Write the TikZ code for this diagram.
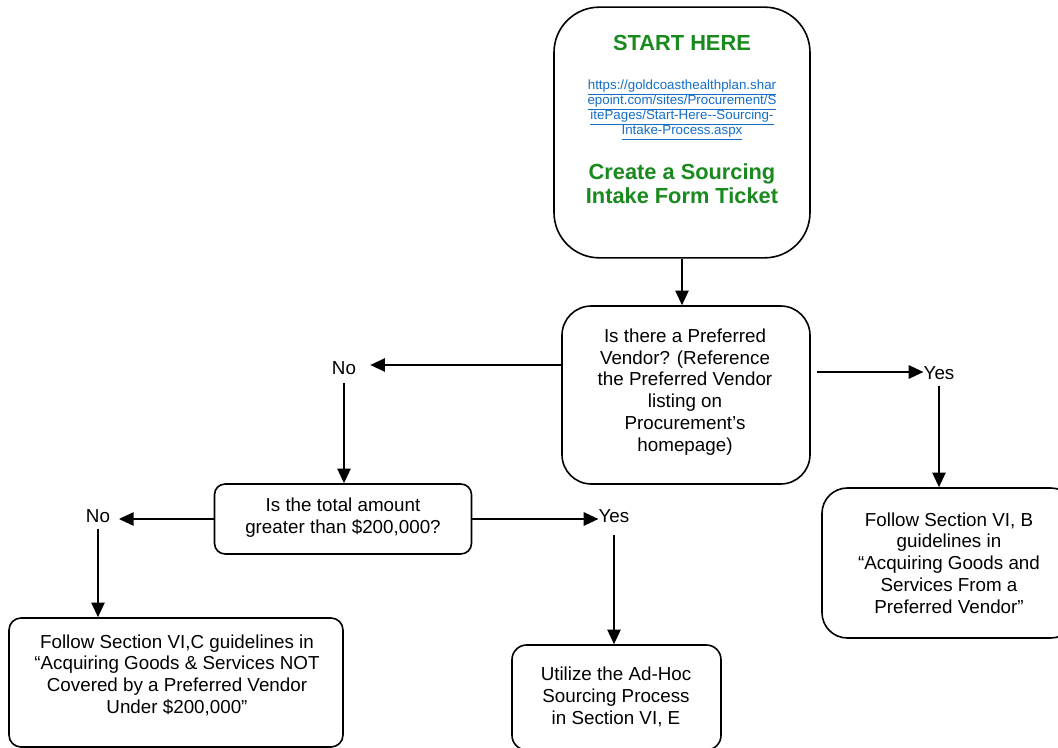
\documentclass[tikz,border=0pt]{standalone}
\usepackage{fontspec}
\setmainfont{Liberation Sans}
\usetikzlibrary{arrows.meta}
\definecolor{startgreen}{RGB}{25,138,30}
\definecolor{linkblue}{RGB}{20,110,200}
\newcommand\myurlfont{\fontsize{10pt}{11.4pt}\selectfont\setlength{\lineskiplimit}{-10pt}}
\begin{document}
\begin{tikzpicture}[x=0.75pt,y=-0.75pt,
  box/.style={draw=black,line width=1.2pt,fill=white,inner sep=0pt},
  txt/.style={align=center,inner sep=0pt,font=\fontsize{14.1pt}{16.3pt}\selectfont},
  lbl/.style={inner sep=0pt,font=\fontsize{14.1pt}{16.3pt}\selectfont},
  arr/.style={line width=1.2pt,-{Triangle[length=11pt,width=10pt]}},
  ln/.style={line width=1.2pt}]
\useasboundingbox (0,0) rectangle (1058,748);
% boxes
\node[box,minimum width=192pt,minimum height=188pt,rounded corners=34pt] (start) at (682,132.5) {};
\node[box,minimum width=186pt,minimum height=133.5pt,rounded corners=22pt] (q1) at (686,395) {};
\node[box,minimum width=192.75pt,minimum height=52.5pt,rounded corners=8pt] (q2) at (343,519) {};
\node[box,minimum width=190.5pt,minimum height=112.5pt,rounded corners=19pt] (rbox) at (949,563) {};
\node[box,minimum width=250.5pt,minimum height=96.75pt,rounded corners=9pt] (lbox) at (176,682.5) {};
\node[box,minimum width=156.75pt,minimum height=78.75pt,rounded corners=11pt] (mbox) at (616.5,697.5) {};
% texts
\node[inner sep=0pt,text=startgreen,font=\fontsize{16.35pt}{18pt}\selectfont\bfseries] (startT) at (682,43) {START HERE};
\node[inner sep=0pt,align=center,text=linkblue,font=\myurlfont] (url) at (682,110) {\underline{https://goldcoasthealthplan.shar}\\\underline{epoint.com/sites/Procurement/S}\\\underline{itePages/Start-Here-{}-Sourcing-}\\\underline{Intake-Process.aspx}};
\node[inner sep=0pt,align=center,text=startgreen,font=\fontsize{16.35pt}{18pt}\selectfont\bfseries] (create) at (682,184) {Create a Sourcing\\Intake Form Ticket};
\node[txt] (q1T) at (685,392) {Is there a Preferred\\Vendor? (Reference\\the Preferred Vendor\\listing on\\Procurement’s\\homepage)};
\node[txt] (q2T) at (343,518) {Is the total amount\\greater than \$200,000?};
\node[txt] (rT) at (949,563) {Follow Section VI, B\\guidelines in\\“Acquiring Goods and\\Services From a\\Preferred Vendor”};
\node[txt] (lT) at (177,675) {Follow Section VI,C guidelines in\\“Acquiring Goods \& Services NOT\\Covered by a Preferred Vendor\\Under \$200,000”};
\node[txt] (mT) at (616,697) {Utilize the Ad-Hoc\\Sourcing Process\\in Section VI, E};
% labels
\node[lbl] (no1) at (344,368) {No};
\node[lbl] (yes1) at (939,373) {Yes};
\node[lbl] (no2) at (98,516) {No};
\node[lbl] (yes2) at (614,516) {Yes};
% connectors
\draw[arr] (start.south) -- (start.south |- q1.north);
\draw[arr] (q1.west |- 0,365) -- ([xshift=10.5pt]no1.east |- 0,365);
\draw[arr] ([yshift=-6pt]no1.south) -- (no1.south |- q2.north);
\draw[arr] ([xshift=4.5pt]q1.east |- 0,372) -- (yes1.west |- 0,372);
\draw[arr] ([yshift=-5pt]yes1.south) -- (yes1.south |- rbox.north);
\draw[arr] (q2.west) -- ([xshift=6.5pt]no2.east |- q2.west);
\draw[arr] ([yshift=-5pt]no2.south) -- (no2.south |- lbox.north);
\draw[arr] (q2.east) -- (yes2.west |- q2.east);
\draw[arr] ([yshift=-9pt]yes2.south) -- (yes2.south |- mbox.north);
\end{tikzpicture}
\end{document}
